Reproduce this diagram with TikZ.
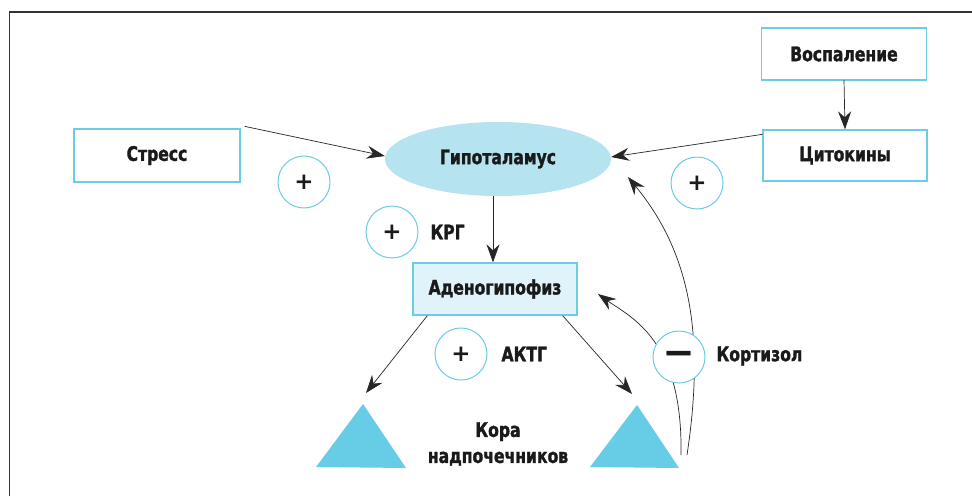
\documentclass[tikz,border=0pt]{standalone}
\usepackage{fontspec}
\setmainfont{DejaVu Sans}[FakeStretch=0.78, BoldFeatures={FakeBold=1.5}]
\newfontfamily\symf{DejaVu Sans}
\usetikzlibrary{arrows.meta,shapes.geometric}
\definecolor{cyanline}{HTML}{6CCCE6}
\definecolor{ellfill}{HTML}{B5E3F0}
\definecolor{trifill}{HTML}{67CDE6}
\definecolor{boxfill}{HTML}{E1F3FA}
\definecolor{txt}{HTML}{1A1A1A}
\tikzset{
  lbl/.style={font=\fontsize{20}{22}\selectfont\bfseries, text=txt},
  box/.style={draw=cyanline, line width=1.3pt, fill=white, inner sep=0pt, lbl},
  sign/.style={circle, draw=cyanline, line width=1pt, fill=white, minimum size=52pt, inner sep=0pt, text=txt},
  con/.style={draw=black!85, line width=0.7pt, -{Stealth[length=18pt,width=13pt,inset=6pt]}},
  tri/.style={fill=trifill, draw=none}
}
\begin{document}
\begin{tikzpicture}[x=1pt,y=-1pt]
\useasboundingbox (0,0) rectangle (972,496);
\fill[white] (0,0) rectangle (972,496);
% frame
\draw[black!80, line width=1.3pt] (9.5,496) -- (9.5,12) -- (972,12);

% nodes
\node[box, minimum width=166pt, minimum height=53pt] (stress) at (157,155.5) {Стресс};
\node[ellipse, fill=ellfill, minimum width=226pt, minimum height=74pt, inner sep=0pt, lbl] (hypo) at (498,159) {\raisebox{2pt}{Гипоталамус}};
\node[box, minimum width=165pt, minimum height=52pt] (infl) at (844,54) {Воспаление};
\node[box, minimum width=164pt, minimum height=51pt] (cyt) at (845,155.5) {Цитокины};
\node[box, fill=boxfill, minimum width=164pt, minimum height=52pt] (adeno) at (495,289) {Аденогипофиз};

% triangles
\coordinate (ltA) at (363,404);
\coordinate (rtA) at (637,405);
\fill[tri] (ltA) -- (406,468) -- (316,467) -- cycle;
\fill[tri] (rtA) -- (679,468) -- (590,467) -- cycle;
\coordinate (lt) at (366,393);
\coordinate (rt) at (632,394);
\node[lbl, align=center, font=\fontsize{20}{26}\selectfont\bfseries] (cortex) at (498,444) {Кора\\надпочечников};

% feedback curves
\coordinate (fb1) at (687,455);
\coordinate (fb2) at (681,455);
\coordinate (hypoIn) at (628,177);
\coordinate (adenoIn) at (598,294);
\draw[con] (fb1) .. controls (706,330) and (688,250) .. (hypoIn);
\draw[con] (fb2) .. controls (683,340) and (632,318) .. (adenoIn);

% connectors
\draw[con] ([xshift=4pt,yshift=2pt]stress.north east) -- ([yshift=3pt]hypo.west);
\draw[con] ([yshift=-5pt]cyt.north west) -- ([yshift=2pt]hypo.east);
\draw[con] (844,80) -- (cyt.north);
\draw[con] ([xshift=-5pt]hypo.south) -- ([xshift=-2pt]adeno.north);
\draw[con] ([xshift=15pt]adeno.south west) -- (lt);
\draw[con] ([xshift=-15pt]adeno.south east) -- (rt);

% signs
\node[sign] (p1) at (304,182) {\symf\bfseries\fontsize{23}{23}\selectfont +};
\node[sign] (p2) at (697,183) {\symf\bfseries\fontsize{23}{23}\selectfont +};
\node[sign] (p3) at (392,232) {\symf\bfseries\fontsize{23}{23}\selectfont +};
\node[sign] (p4) at (461,354) {\symf\bfseries\fontsize{23}{23}\selectfont +};
\node[sign] (m1) at (679,357) {\symf\bfseries\fontsize{20}{20}\selectfont\scalebox{1.35}[1.8]{—}};

% labels
\node[lbl, anchor=west] (krg) at (427,232) {КРГ};
\node[lbl, anchor=west] (acth) at (498,354) {АКТГ};
\node[lbl, anchor=west] (cort) at (713,356) {Кортизол};
\end{tikzpicture}
\end{document}
